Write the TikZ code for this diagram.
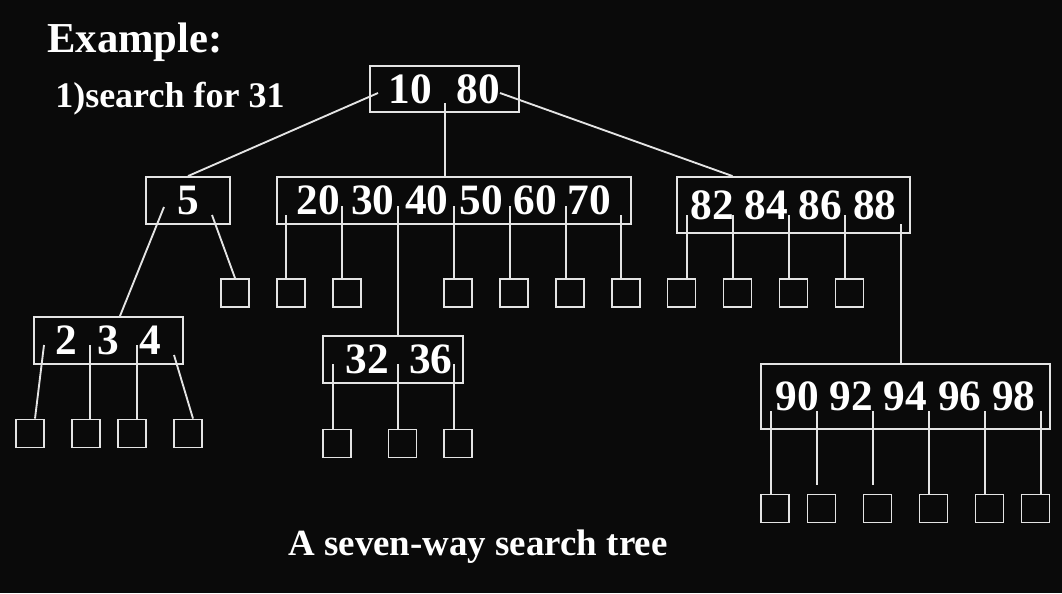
\documentclass[tikz,border=0pt]{standalone}
\usepackage{fontspec}
\setmainfont{Liberation Serif}

\definecolor{bgblack}{RGB}{10,10,10}
\definecolor{wire}{RGB}{228,228,228}

\tikzset{
    keybox/.style={draw=wire, line width=1.4pt, inner sep=0pt, text=white, font=\fontsize{32.5}{36}\selectfont\bfseries},
    leaf/.style={draw=wire, line width=1.4pt, inner sep=0pt, minimum size=21pt},
    ptr/.style={draw=wire, line width=1.4pt},
}

\begin{document}
\begin{tikzpicture}[x=0.75pt, y=-0.75pt]
    \fill[bgblack] (0,0) rectangle (1062,593);

    \node[anchor=base west, inner sep=0pt, text=white, font=\fontsize{32}{36}\selectfont\bfseries] (title) at (47,52) {Example:};
    \node[anchor=base west, inner sep=0pt, text=white, font=\fontsize{27}{30}\selectfont\bfseries] (task) at (55,107) {1)search for 31};
    \node[anchor=base, inner sep=0pt, text=white, font=\fontsize{27.7}{30}\selectfont\bfseries] (caption) at (478,555) {A seven-way search tree};

    % key nodes
    \node[keybox, minimum width=111.75pt, minimum height=34.5pt] (root) at (444.5,89) {10\hspace{.57em}80};
    \node[keybox, minimum width=63pt, minimum height=35.25pt] (n5) at (188,200.5) {5};
    \node[keybox, minimum width=265.5pt, minimum height=35.25pt] (mid) at (454,200.5) {20 30 40 50 60 70};
    \node[keybox, minimum width=174.75pt, minimum height=42pt] (hi) at (793.5,205) {82 84 86 88};
    \node[keybox, minimum width=111.75pt, minimum height=35.25pt] (n234) at (108.5,340.5) {2\hspace{.47em}3\hspace{.47em}4};
    \node[keybox, minimum width=105pt, minimum height=35.25pt] (n3236) at (393,359.5) {\hspace{9pt}32\hspace{.47em}36};
    \node[keybox, minimum width=216.75pt, minimum height=48.75pt] (n9098) at (905.5,396.5) {90 92 94 96 98};

    % empty subtrees
    \foreach \n/\x/\y in {a1/235/293, a2/291/293, a3/347/293, a4/458/293, a5/514/293, a6/570/293,
        a7/626/293, a8/681.5/293, a9/737.5/293, a10/793.5/293, a11/849.5/293,
        b1/30/433.5, b2/86/433.5, b3/132/433.5, b4/188/433.5,
        c1/337/443.5, c2/402.5/443.5, c3/458/443.5,
        d1/775/508.5, d2/821.5/508.5, d3/877.5/508.5, d4/933.5/508.5, d5/989.5/508.5, d6/1035.5/508.5}
        \node[leaf] (\n) at (\x,\y) {};

    % pointers
    \coordinate (r1) at (378,93);
    \coordinate (r2) at (445,103);
    \coordinate (r3) at (500,93);
    \draw[ptr] (r1) -- (n5.north);
    \draw[ptr] (r2) -- (r2 |- mid.north);
    \draw[ptr] (r3) -- ([xshift=-45.75pt]hi.north);

    \coordinate (f1) at (164,207);
    \coordinate (f2) at (212,215);
    \draw[ptr] (f1) -- ([xshift=8.6pt]n234.north);
    \draw[ptr] (f2) -- (a1.north);

    \coordinate (m3) at (398,206);
    \draw[ptr] (m3) -- (m3 |- n3236.north);
    \coordinate (h5) at (901,224);
    \draw[ptr] (h5) -- (h5 |- n9098.north);

    \foreach \x/\y/\l in {286/215/a2, 342/206/a3, 454/206/a4, 510/206/a5, 566/206/a6, 621/215/a7,
        687/215/a8, 733/215/a9, 789/215/a10, 845/215/a11,
        90/345/b2, 137/345/b3,
        333/364/c1, 398/364/c2, 454/364/c3,
        771/411/d1, 929/411/d4, 985/411/d5, 1041/411/d6}
    {
        \coordinate (p\l) at (\x,\y);
        \draw[ptr] (p\l) -- (p\l |- \l.north);
    }
    \coordinate (pb1) at (44,345);
    \coordinate (pb4) at (174,355);
    \draw[ptr] (pb1) -- ([xshift=3.75pt]b1.north);
    \draw[ptr] (pb4) -- ([xshift=3.75pt]b4.north);

    \coordinate (pd2) at (817,411);
    \coordinate (pd3) at (873,411);
    \draw[ptr, shorten >=6.75pt] (pd2) -- (pd2 |- d2.north);
    \draw[ptr, shorten >=6.75pt] (pd3) -- (pd3 |- d3.north);

\end{tikzpicture}
\end{document}
